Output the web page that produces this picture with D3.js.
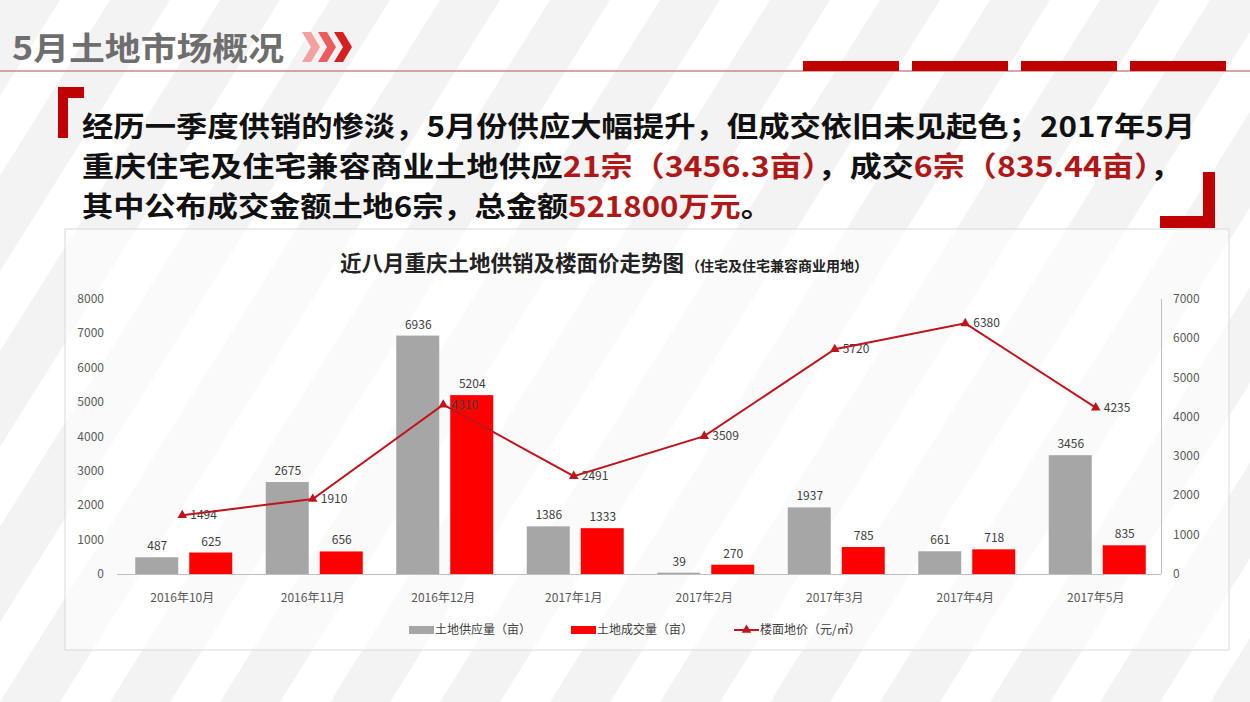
<!DOCTYPE html><html><head><meta charset="utf-8"><script src="https://cdn.jsdelivr.net/npm/d3@7/dist/d3.min.js"></script>
<style>body{margin:0;background:#fff}svg{display:block;font-family:"Noto Sans CJK SC","Microsoft YaHei",sans-serif}</style></head><body>
<svg id="c" width="1250" height="702"></svg>
<script>
const categories=["2016年10月","2016年11月","2016年12月","2017年1月","2017年2月","2017年3月","2017年4月","2017年5月"];
const supply=[487,2675,6936,1386,39,1937,661,3456];
const deal=[625,656,5204,1333,270,785,718,835];
const price=[1494,1910,4310,2491,3509,5720,6380,4235];
const leftTicks=[0,1000,2000,3000,4000,5000,6000,7000,8000];
const rightTicks=[0,1000,2000,3000,4000,5000,6000,7000];
const legendLabels=["土地供应量（亩）","土地成交量（亩）","楼面地价（元/㎡）"];
const svg=d3.select("#c");
const bg=svg.append("g");
for(let i=-10;i<30;i++){bg.append("polygon").attr("points",`${i*110},702 ${i*110+60},702 ${i*110+500},0 ${i*110+440},0`).attr("fill","#f3f3f3");}
svg.append("text").attr("x",12).attr("y",60).attr("font-size",32).attr("font-weight","bold").attr("fill","#6e6e6e").attr("textLength",272).attr("lengthAdjust","spacingAndGlyphs").text("5月土地市场概况");
[[302,"#f4a0a0"],[318,"#ec5c5c"],[334,"#d42020"]].forEach(([x,c])=>svg.append("polygon").attr("points",`${x},32 ${x+9},32 ${x+18},47 ${x+9},62 ${x},62 ${x+9},47`).attr("fill",c));
svg.append("line").attr("x1",0).attr("x2",1250).attr("y1",71).attr("y2",71).attr("stroke","#c88").attr("stroke-width",1.5);
[803,912,1021,1130].forEach(x=>svg.append("rect").attr("x",x).attr("y",61).attr("width",96).attr("height",10).attr("fill","#c00000"));
svg.append("path").attr("d","M58,87 H84 V98 H68 V138 H58 Z").attr("fill","#c00000");
svg.append("path").attr("d","M1215,172 V228 H1160 V216 H1203 V172 Z").attr("fill","#c00000");
const para=[[["经历一季度供销的惨淡，5月份供应大幅提升，但成交依旧未见起色；2017年5月",0]],[["重庆住宅及住宅兼容商业土地供应",0],["21宗（3456.3亩）",1],["，成交",0],["6宗（835.44亩）",1],["，",0]],[["其中公布成交金额土地6宗，总金额",0],["521800万元",1],["。",0]]];
const lens=[1113,1100,690];
para.forEach((ln,i)=>{const t=svg.append("text").attr("x",82).attr("y",137+i*40).attr("font-size",28).attr("font-weight","bold").attr("textLength",lens[i]).attr("lengthAdjust","spacingAndGlyphs");ln.forEach(([s,r])=>t.append("tspan").attr("fill",r?"#b01818":"#111").text(s));});
svg.append("rect").attr("x",65).attr("y",229).attr("width",1164).attr("height",421).attr("fill","rgba(255,255,255,0.6)").attr("stroke","#d9d9d9");
const tt=svg.append("text").attr("x",340).attr("y",271).attr("fill","#222");
tt.append("tspan").attr("font-size",21.5).attr("font-weight","bold").text("近八月重庆土地供销及楼面价走势图");
tt.append("tspan").attr("font-size",14).attr("font-weight","bold").attr("dx",2).text("（住宅及住宅兼容商业用地）");
const x=d3.scaleBand().domain(categories).range([117,1161]);
const yL=d3.scaleLinear().domain([0,8000]).range([574,299]);
const yR=d3.scaleLinear().domain([0,7000]).range([574,299]);
const ax=svg.append("g").attr("font-size",12).attr("fill","#595959");
leftTicks.forEach(t=>ax.append("text").attr("x",104).attr("y",yL(t)+4).attr("text-anchor","end").text(t));
rightTicks.forEach(t=>ax.append("text").attr("x",1173).attr("y",yR(t)+4).text(t));
svg.append("line").attr("x1",117).attr("x2",1161).attr("y1",574.5).attr("y2",574.5).attr("stroke","#bfbfbf");
svg.append("line").attr("x1",1161.5).attr("x2",1161.5).attr("y1",299).attr("y2",574).attr("stroke","#bfbfbf");
categories.forEach(c=>ax.append("text").attr("x",x(c)+x.bandwidth()/2).attr("y",602).attr("text-anchor","middle").text(c));
const bw=43,cx=c=>x(c)+x.bandwidth()/2;
const g=svg.append("g");
g.selectAll(".s").data(supply).join("rect").attr("x",(d,i)=>cx(categories[i])-47).attr("width",bw).attr("y",d=>yL(d)).attr("height",d=>574-yL(d)).attr("fill","#a6a6a6");
g.selectAll(".d").data(deal).join("rect").attr("x",(d,i)=>cx(categories[i])+7).attr("width",bw).attr("y",d=>yL(d)).attr("height",d=>574-yL(d)).attr("fill","#ff0000");
const lb=svg.append("g").attr("font-size",12).attr("fill","#404040").attr("text-anchor","middle");
supply.forEach((d,i)=>lb.append("text").attr("x",cx(categories[i])-25).attr("y",yL(d)-7).text(d));
deal.forEach((d,i)=>lb.append("text").attr("x",cx(categories[i])+29).attr("y",yL(d)-7).text(d));
const line=d3.line().x((d,i)=>cx(categories[i])).y(d=>yR(d));
svg.append("path").datum(price).attr("d",line).attr("fill","none").attr("stroke","#c0141c").attr("stroke-width",2);
const tri=d3.symbol().type(d3.symbolTriangle).size(40);
price.forEach((d,i)=>svg.append("path").attr("d",tri()).attr("transform",`translate(${cx(categories[i])},${yR(d)})`).attr("fill","#c0141c"));
price.forEach((d,i)=>lb.append("text").attr("x",cx(categories[i])+8).attr("y",yR(d)+4).attr("text-anchor","start").text(d));
const lg=svg.append("g").attr("font-size",12).attr("fill","#404040");
lg.append("rect").attr("x",409).attr("y",626).attr("width",25).attr("height",8).attr("fill","#a6a6a6");
lg.append("text").attr("x",435).attr("y",634).text(legendLabels[0]);
lg.append("rect").attr("x",571).attr("y",626).attr("width",25).attr("height",8).attr("fill","#ff0000");
lg.append("text").attr("x",597).attr("y",634).text(legendLabels[1]);
lg.append("line").attr("x1",734).attr("x2",759).attr("y1",630).attr("y2",630).attr("stroke","#c0141c").attr("stroke-width",2);
lg.append("path").attr("d",tri()).attr("transform","translate(746.5,630)").attr("fill","#c0141c");
lg.append("text").attr("x",760).attr("y",634).text(legendLabels[2]);
</script></body></html>
